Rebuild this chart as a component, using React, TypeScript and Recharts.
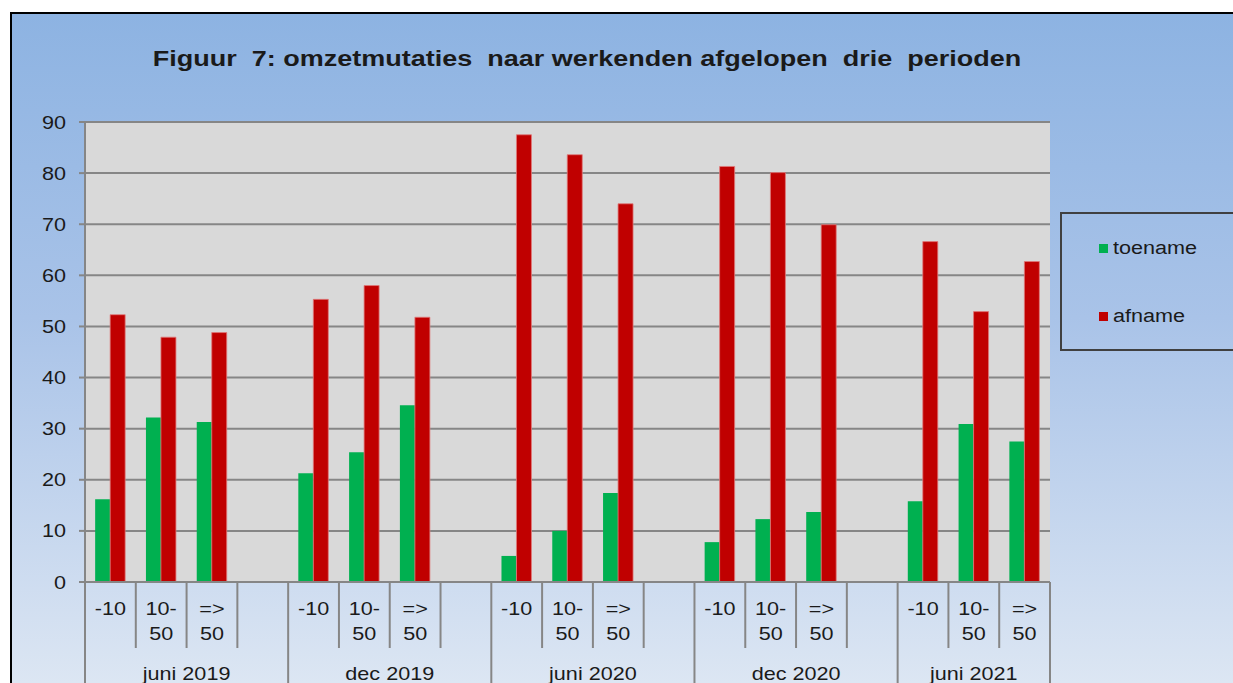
import { BarChart, Bar, XAxis, YAxis, CartesianGrid } from 'recharts';

const periods = ['juni 2019', 'dec 2019', 'juni 2020', 'dec 2020', 'juni 2021'];
const sizeClasses = ['-10', '10-50', '=>50'];
const toename = [16.2, 32.2, 31.3, 21.3, 25.4, 34.6, 5.1, 10.0, 17.4, 7.8, 12.3, 13.7, 15.8, 30.9, 27.5];
const afname = [52.3, 47.9, 48.8, 55.3, 58.0, 51.8, 87.5, 83.6, 74.0, 81.3, 80.1, 69.9, 66.6, 52.9, 62.7];
const yTicks = [0, 10, 20, 30, 40, 50, 60, 70, 80, 90];

type Slot = { key: string; period: string; cls: string; toename?: number; afname?: number };

const data: Slot[] = [];
periods.forEach((p, pi) => {
    sizeClasses.forEach((c, ci) => {
        const i = pi * sizeClasses.length + ci;
        data.push({ key: `${p}|${c}`, period: p, cls: c, toename: toename[i], afname: afname[i] });
    });
    if (pi < periods.length - 1) data.push({ key: `${p}|gap`, period: p, cls: '' });
});

const CHART_W = 1233;
const CHART_H = 720;
const PLOT_LEFT = 85;
const PLOT_RIGHT = 1050;
const SLOT_W = (PLOT_RIGHT - PLOT_LEFT) / data.length;
const FONT = '"Liberation Sans", Arial, sans-serif';
const TEXT = '#1a1a1a';
const LINE = '#868686';
const STRETCH = 1.2; // the original text is drawn a bit wider than Arial

function Label({ x, y, anchor, children, size = 18, bold = false }: any) {
    return (
        <g transform={`translate(${x},${y}) scale(${STRETCH},1)`}>
            <text x={0} y={0} textAnchor={anchor} fontSize={size} fontWeight={bold ? 'bold' : 'normal'} fontFamily={FONT} fill={TEXT} style={{ whiteSpace: 'pre' }}>
                {children}
            </text>
        </g>
    );
}

function YTick(props: any) {
    const { x, y, payload } = props;
    return <Label x={x} y={y + 6.5} anchor="end">{payload.value}</Label>;
}

function CategoryTick(props: any) {
    const { x, y, payload } = props;
    const idx = data.findIndex((d) => d.key === payload.value);
    if (idx < 0) return null;
    const slot = data[idx];
    const left = x - SLOT_W / 2;
    const right = x + SLOT_W / 2;
    const next = data[idx + 1];
    const groupEnd = !next || next.period !== slot.period;
    const groupSlots = data.filter((d) => d.period === slot.period);
    const posInGroup = groupSlots.indexOf(slot);
    let groupX: number | null = null;
    if (groupSlots.length === 4 && posInGroup === 1) groupX = right;
    if (groupSlots.length === 3 && posInGroup === 1) groupX = x;
    const lines = slot.cls === '-10' ? ['-10'] : slot.cls === '10-50' ? ['10-', '50'] : slot.cls === '=>50' ? ['=>', '50'] : [];
    return (
        <g>
            {idx === 0 && <line x1={left} x2={left} y1={y} y2={y + 140} stroke={LINE} strokeWidth={2} />}
            <line x1={right} x2={right} y1={y} y2={groupEnd ? y + 140 : y + 66} stroke={LINE} strokeWidth={2} />
            {lines.map((t, i) => (
                <Label key={i} x={x} y={y + 33 + i * 25} anchor="middle">{t}</Label>
            ))}
            {groupX !== null && <Label x={groupX} y={y + 98} anchor="middle">{slot.period}</Label>}
        </g>
    );
}

export default function App() {
    return (
        <div style={{ position: 'fixed', left: 0, top: 0, width: 1233, height: 683, overflow: 'hidden', background: '#fff' }}>
            <div
                style={{
                    position: 'absolute',
                    left: 10,
                    top: 12,
                    width: 1300,
                    height: 760,
                    border: '2.5px solid #000',
                    background: 'linear-gradient(180deg, #8db3e2 0%, #a9c3e8 40%, #dce6f3 88%, #e4ecf6 100%)',
                }}
            />
            <svg style={{ position: 'absolute', left: 0, top: 0 }} width={1233} height={100}>
                <Label x={587} y={66} anchor="middle" size={22.5} bold>
                    {'Figuur  7: omzetmutaties  naar werkenden afgelopen  drie  perioden'}
                </Label>
            </svg>
            <div style={{ position: 'absolute', left: 0, top: 0 }}>
                <BarChart
                    width={CHART_W}
                    height={CHART_H}
                    data={data}
                    margin={{ top: 122, right: CHART_W - PLOT_RIGHT, left: 0, bottom: 0 }}
                    barCategoryGap="20%"
                    barGap={0}
                >
                    <CartesianGrid vertical={false} stroke={LINE} strokeWidth={2} fill="#d9d9d9" fillOpacity={1} />
                    <XAxis
                        dataKey="key"
                        height={CHART_H - 582}
                        interval={0}
                        tickLine={false}
                        tickSize={0}
                        tickMargin={0}
                        axisLine={{ stroke: LINE, strokeWidth: 2 }}
                        tick={(p: any) => <CategoryTick {...p} />}
                    />
                    <YAxis
                        width={PLOT_LEFT}
                        domain={[0, 90]}
                        ticks={yTicks}
                        interval={0}
                        axisLine={{ stroke: LINE, strokeWidth: 2 }}
                        tickLine={{ stroke: LINE, strokeWidth: 2 }}
                        tickSize={6}
                        tickMargin={13}
                        tick={(p: any) => <YTick {...p} />}
                    />
                    <Bar dataKey="toename" fill="#00b050" isAnimationActive={false} />
                    <Bar dataKey="afname" fill="#c00000" stroke="#e07a7a" strokeWidth={0.8} isAnimationActive={false} />
                </BarChart>
            </div>
            <div
                style={{
                    position: 'absolute',
                    left: 1060,
                    top: 212,
                    width: 220,
                    height: 135,
                    border: '2px solid #404040',
                    fontFamily: FONT,
                    fontSize: 18,
                    color: TEXT,
                }}
            >
                <div style={{ position: 'absolute', left: 37, top: 24, display: 'flex', alignItems: 'center' }}>
                    <span style={{ width: 9, height: 9, background: '#00b050', marginRight: 5, display: 'inline-block' }} />
                    <span style={{ display: 'inline-block', transform: `scaleX(${STRETCH})`, transformOrigin: 'left center' }}>toename</span>
                </div>
                <div style={{ position: 'absolute', left: 37, top: 92, display: 'flex', alignItems: 'center' }}>
                    <span style={{ width: 9, height: 9, background: '#c00000', marginRight: 5, display: 'inline-block' }} />
                    <span style={{ display: 'inline-block', transform: `scaleX(${STRETCH})`, transformOrigin: 'left center' }}>afname</span>
                </div>
            </div>
        </div>
    );
}
